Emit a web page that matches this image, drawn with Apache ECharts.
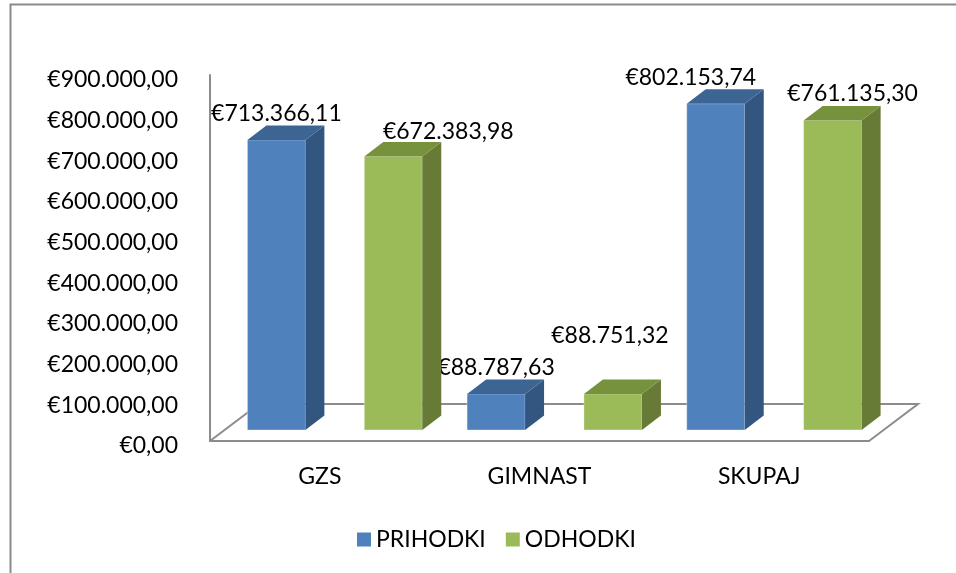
<!DOCTYPE html>
<html>
<head>
<meta charset="utf-8">
<script src="https://cdn.jsdelivr.net/npm/echarts@6/dist/echarts.min.js"></script>
<style>html,body{margin:0;padding:0;background:#fff;}#c{width:956px;height:573px;}</style>
</head>
<body>
<div id="c"></div>
<script>
const categories = ['GZS', 'GIMNAST', 'SKUPAJ'];
const seriesNames = ['PRIHODKI', 'ODHODKI'];
const prihodki = [713366.11, 88787.63, 802153.74];
const odhodki = [672383.98, 88751.32, 761135.30];
const yTicks = { min: 0, max: 900000, interval: 100000 };

// style / layout settings (not data)
const FONT = 'Lato';
const FS = 23;
const colors = {
  PRIHODKI: { front: '#4F81BD', side: '#335680', top: '#3D6594' },
  ODHODKI: { front: '#9BBB59', side: '#677A36', top: '#77923D' }
};
const labelShift = {
  PRIHODKI: [[0, -26], [0, -26], [-25, -26]],
  ODHODKI: [[55, -25], [-3, -58], [20, -27]]
};
const MID_DX = 15, MID_DY = -11;      // bar placement inside the floor depth
const SIDE_DX = 19, SIDE_DY = -14.5;  // bar depth
const FLOOR_DX = 49, FLOOR_DY = -37;  // floor depth

function fmt(v) {
  const parts = v.toFixed(2).split('.');
  const intPart = parts[0].replace(/\B(?=(\d{3})+(?!\d))/g, '.');
  return '€' + intPart + ',' + parts[1];
}

function makeBarSeries(name, values, sideSign) {
  return {
    name: name,
    type: 'custom',
    coordinateSystem: 'cartesian2d',
    encode: { x: 0, y: 1 },
    itemStyle: { color: colors[name].front },
    z: 3,
    data: values.map((v, i) => [i, v]),
    renderItem: function (params, api) {
      const idx = api.value(0);
      const val = api.value(1);
      const pt = api.coord([idx, val]);
      const base = api.coord([idx, 0]);
      const band = api.size([1, 0])[0];
      const w = band * 0.264;
      const cx = pt[0] + sideSign * band * 0.266 + MID_DX;
      const top = pt[1] + MID_DY;
      const bottom = base[1] + MID_DY;
      const l = cx - w / 2, r = cx + w / 2;
      const c = colors[name];
      const sh = labelShift[name][params.dataIndex];
      return {
        type: 'group',
        children: [
          { type: 'rect', shape: { x: l, y: top, width: w, height: bottom - top },
            style: { fill: c.front, stroke: 'rgba(255,255,255,0.35)', lineWidth: 1 } },
          { type: 'polygon', shape: { points: [[r, top], [r + SIDE_DX, top + SIDE_DY], [r + SIDE_DX, bottom + SIDE_DY], [r, bottom]] },
            style: { fill: c.side } },
          { type: 'polygon', shape: { points: [[l, top], [l + SIDE_DX, top + SIDE_DY], [r + SIDE_DX, top + SIDE_DY], [r, top]] },
            style: { fill: c.top } },
          { type: 'text', x: cx + sh[0], y: top + sh[1],
            style: { text: fmt(val), fill: '#000', font: FS + 'px ' + FONT, align: 'center', verticalAlign: 'middle' } }
        ]
      };
    }
  };
}

const floorSeries = {
  type: 'custom',
  coordinateSystem: 'cartesian2d',
  silent: true,
  z: 1,
  data: [[0, 0]],
  renderItem: function (params, api) {
    const cs = params.coordSys;
    const x0 = cs.x, x1 = cs.x + cs.width, yb = cs.y + cs.height;
    return {
      type: 'polyline',
      shape: { points: [[x0, yb], [x0 + FLOOR_DX, yb + FLOOR_DY], [x1 + FLOOR_DX, yb + FLOOR_DY], [x1, yb]] },
      style: { stroke: '#8C8C8C', lineWidth: 2, fill: null }
    };
  }
};

const chart = echarts.init(document.getElementById('c'), null, { renderer: 'canvas' });
chart.setOption({
  backgroundColor: '#fff',
  animation: false,
  textStyle: { fontFamily: FONT },
  graphic: [{
    type: 'rect', left: 8, top: 2, shape: { x: 0, y: 0, width: 1200, height: 800 },
    style: { fill: null, stroke: '#8A8A8A', lineWidth: 2 }, silent: true, z: -1
  }],
  grid: { left: 210, top: 75, width: 659, height: 366, containLabel: false },
  xAxis: {
    type: 'category',
    data: categories,
    axisLine: { show: true, lineStyle: { color: '#8C8C8C', width: 2 } },
    axisTick: { show: false },
    axisLabel: { color: '#000', fontSize: FS, fontFamily: FONT, margin: 24 },
    splitLine: { show: false }
  },
  yAxis: {
    type: 'value',
    min: yTicks.min, max: yTicks.max, interval: yTicks.interval,
    axisLine: { show: true, lineStyle: { color: '#8C8C8C', width: 2 } },
    axisTick: { show: false },
    splitLine: { show: false },
    axisLabel: {
      color: '#000', fontSize: FS, fontFamily: FONT, margin: 32,
      formatter: v => '{a|' + fmt(v) + '}',
      rich: { a: { fontSize: FS, fontFamily: FONT, color: '#000', padding: [10, 0, 0, 0] } }
    }
  },
  legend: {
    data: seriesNames.map(n => ({ name: n, icon: 'rect', itemStyle: { color: colors[n].front } })),
    left: 352, top: 523,
    itemWidth: 14, itemHeight: 14, itemGap: 20,
    textStyle: { color: '#000', fontSize: FS, fontFamily: FONT, padding: [0, 0, 0, 0] }
  },
  series: [floorSeries, makeBarSeries('PRIHODKI', prihodki, -1), makeBarSeries('ODHODKI', odhodki, 1)]
});
</script>
</body>
</html>
